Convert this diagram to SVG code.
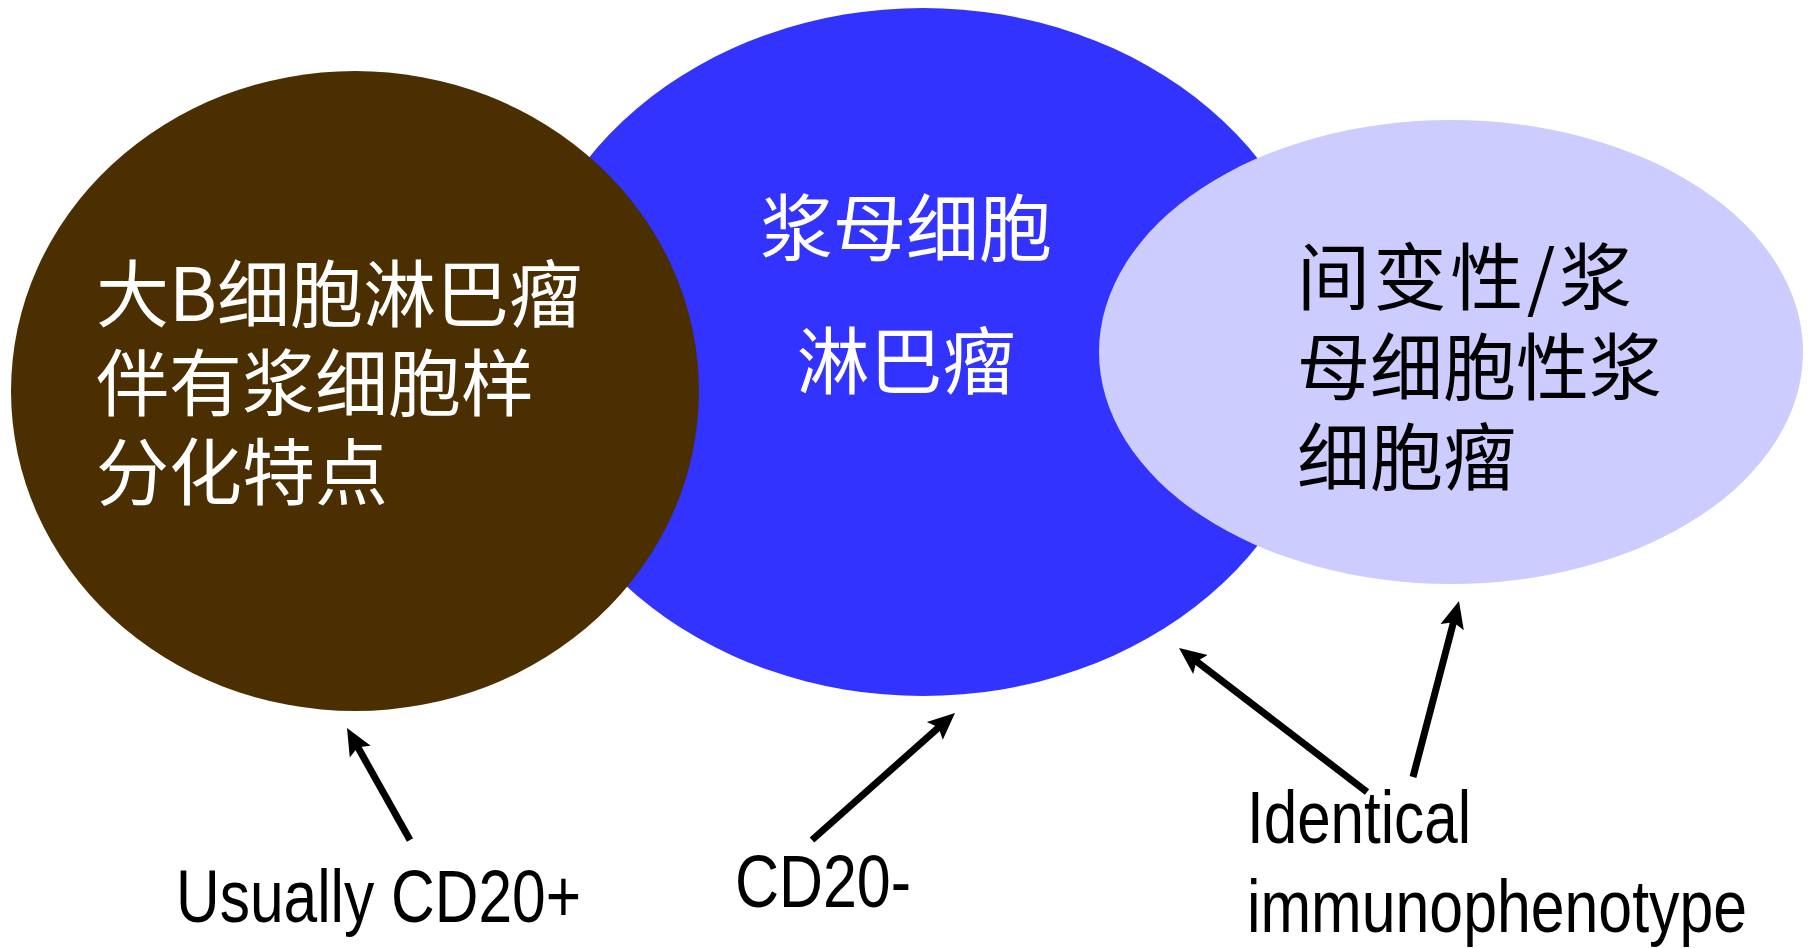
<svg xmlns="http://www.w3.org/2000/svg" width="1814" height="948" viewBox="0 0 1814 948">
<style>
.cjk{font-family:"Noto Sans CJK SC","Noto Sans CJK TC",sans-serif;font-size:73px}
.w{fill:#FFFFFF}
.b{fill:#000000}
.lab{font-family:"Liberation Sans Narrow","Liberation Sans",Arial,sans-serif;font-size:75px;fill:#000000}
.arr{stroke:#000000;stroke-width:7;fill:none;marker-end:url(#ah)}
</style>
<defs>
<marker id="ah" markerUnits="userSpaceOnUse" viewBox="0 -14 30 28" refX="6" refY="0" markerWidth="30" markerHeight="28" orient="auto">
<path d="M0,-12 L27,0 L0,12 L5,0 z" fill="#000000"/>
</marker>
</defs>
<rect x="0" y="0" width="1814" height="948" fill="#FFFFFF"/>
<g id="node-plasmablastic">
<ellipse cx="923" cy="352" rx="405" ry="344" fill="#3333FF"/>
<text class="cjk w" x="906" y="255" text-anchor="middle">浆母细胞</text>
<text class="cjk w" x="906" y="388" text-anchor="middle">淋巴瘤</text>
</g>
<g id="node-dlbcl">
<ellipse cx="355" cy="391" rx="344" ry="320" fill="#4C2F00"/>
<text class="cjk w" x="96" y="321">大B细胞淋巴瘤</text>
<text class="cjk w" x="96" y="410">伴有浆细胞样</text>
<text class="cjk w" x="96" y="499">分化特点</text>
</g>
<g id="node-anaplastic">
<ellipse cx="1451" cy="352" rx="352" ry="232" fill="#CCCCFF"/>
<text class="cjk b" x="1297" y="304" textLength="335" lengthAdjust="spacing">间变性/浆</text>
<text class="cjk b" x="1297" y="394">母细胞性浆</text>
<text class="cjk b" x="1297" y="484">细胞瘤</text>
</g>
<g id="connectors">
<line class="arr" x1="410" y1="840" x2="357.3" y2="746.3"/>
<line class="arr" x1="812" y1="840" x2="939.3" y2="726.9"/>
<line class="arr" x1="1367" y1="792" x2="1195.7" y2="660.8"/>
<line class="arr" x1="1413" y1="777" x2="1453.7" y2="621.3"/>
</g>
<g id="labels">
<text class="lab" x="176" y="922" textLength="405" lengthAdjust="spacingAndGlyphs">Usually CD20+</text>
<text class="lab" x="735" y="907" textLength="176" lengthAdjust="spacingAndGlyphs">CD20-</text>
<text class="lab" x="1247" y="843" textLength="224" lengthAdjust="spacingAndGlyphs">Identical</text>
<text class="lab" x="1247" y="932" textLength="500" lengthAdjust="spacingAndGlyphs">immunophenotype</text>
</g>
</svg>
